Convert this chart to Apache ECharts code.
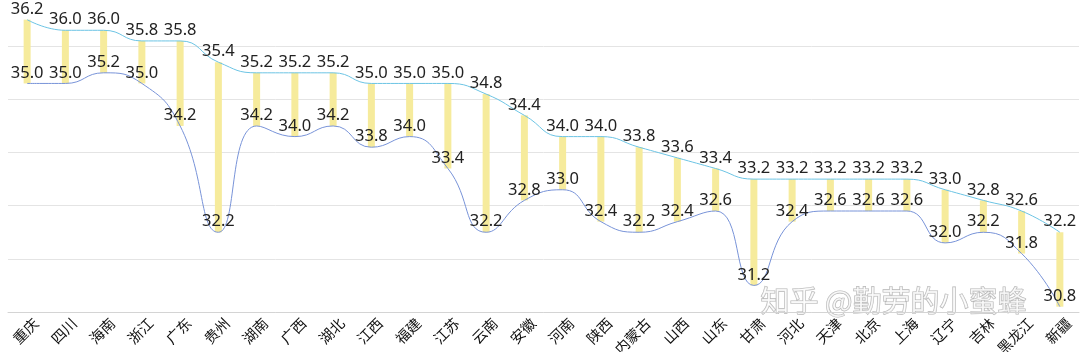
<!DOCTYPE html>
<html lang="zh">
<head>
    <meta charset="UTF-8">
    <title>各省气温</title>
    <script src="https://cdn.jsdelivr.net/npm/echarts@6/dist/echarts.min.js"></script>
    <style>html,body{margin:0;padding:0;background:#fff}</style>
</head>
<body>
    <div id="main" style="width:1080px;height:352px"></div>
    <script>
        // 省份
        var provinces = ['重庆','四川','海南','浙江','广东','贵州','湖南','广西','湖北','江西','福建','江苏','云南','安徽',
            '河南','陕西','内蒙古','山西','山东','甘肃','河北','天津','北京','上海','辽宁','吉林','黑龙江','新疆'];
        // 最高值
        var highVals = [36.2,36.0,36.0,35.8,35.8,35.4,35.2,35.2,35.2,35.0,35.0,35.0,34.8,34.4,
            34.0,34.0,33.8,33.6,33.4,33.2,33.2,33.2,33.2,33.2,33.0,32.8,32.6,32.2];
        // 最低值
        var lowVals = [35.0,35.0,35.2,35.0,34.2,32.2,34.2,34.0,34.2,33.8,34.0,33.4,32.2,32.8,
            33.0,32.4,32.2,32.4,32.6,31.2,32.4,32.6,32.6,32.6,32.0,32.2,31.8,30.8];

        // 柱子 = 透明底 + 差值
        var gap = highVals.map(function (h, i) { return +(h - lowVals[i]).toFixed(1); });

        var font = 'Noto Sans CJK SC';
        var numFont = 'Noto Sans';
        var mCharts = echarts.init(document.getElementById('main'));
        var lbl = {
            show: true, position: 'top', distance: 2, fontSize: 16.5, color: '#222', fontFamily: numFont,
            formatter: function (p) { return p.value.toFixed(1); }
        };
        var option = {
            animation: false,
            textStyle: { fontFamily: font },
            grid: { left: 8, right: 1, top: 0, bottom: 40, outerBoundsMode: 'none' },
            xAxis: {
                type: 'category',
                data: provinces,
                axisLine: { lineStyle: { color: '#d4d4d4' } },
                axisTick: { show: false },
                axisLabel: { rotate: 45, fontSize: 14.5, color: '#111', margin: 0, interval: 0,
                             verticalAlign: 'top', align: 'right', padding: [5, 0, 0, 0] }
            },
            yAxis: [
                { type: 'value', min: 30.7, max: 36.57, show: false, splitLine: { show: false } },
                // 只负责画网格线
                { type: 'value', min: 0, max: 5.87, interval: 1, position: 'left',
                  axisLabel: { show: false }, axisLine: { show: false }, axisTick: { show: false },
                  splitLine: { showMaxLine: false, lineStyle: { color: '#e4e4e4' } } }
            ],
            graphic: [{
                type: 'text', left: 760, top: 286, silent: true,
                style: {
                    text: '知乎 @勤劳的小蜜蜂', fontSize: 29, fontFamily: font,
                    fill: 'rgba(255,255,255,0.7)', stroke: '#b5b5b5', lineWidth: 1.2
                }
            }],
            series: [
                { type: 'bar', stack: 'r', data: lowVals, barWidth: 7,
                  itemStyle: { color: 'transparent' }, silent: true },
                { type: 'bar', stack: 'r', data: gap, barWidth: 7,
                  itemStyle: { color: '#f6eb9c' } },
                { type: 'line', data: highVals, smooth: 0.5, symbol: 'circle', symbolSize: 0,
                  lineStyle: { color: '#6cc4e4', width: 1 }, label: lbl },
                { type: 'line', data: lowVals, smooth: 0.5, symbol: 'circle', symbolSize: 0,
                  lineStyle: { color: '#7893d8', width: 1 }, label: lbl }
            ]
        };
        mCharts.setOption(option);
    </script>
</body>
</html>
